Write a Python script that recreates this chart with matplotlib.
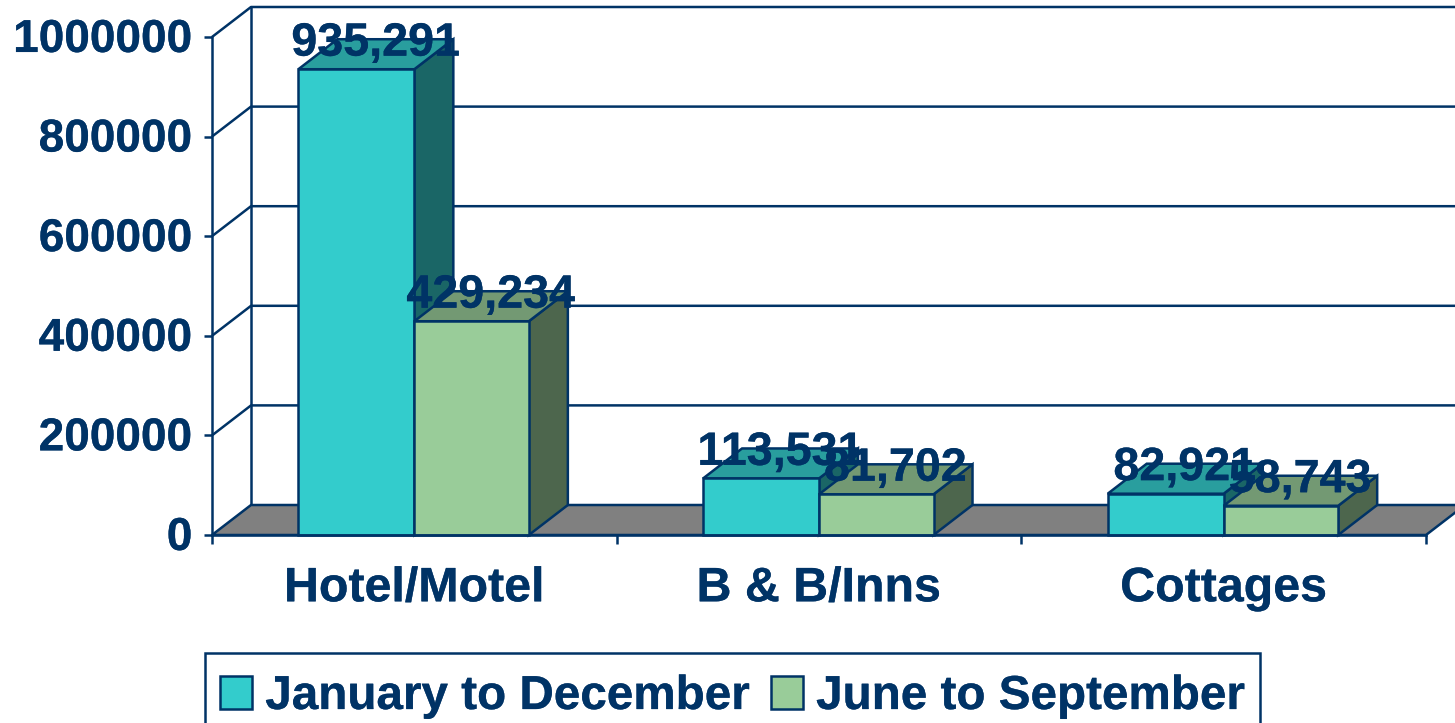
import matplotlib
matplotlib.use("Agg")
import matplotlib.pyplot as plt
import matplotlib.patheffects as pe
from matplotlib.patches import Polygon, Patch, Rectangle
from matplotlib.transforms import ScaledTranslation

categories = ["Hotel/Motel", "B & B/Inns", "Cottages"]
series_names = ["January to December", "June to September"]
jan_dec = [935291, 113531, 82921]
jun_sep = [429234, 81702, 58743]
y_ticks = [0, 200000, 400000, 600000, 800000, 1000000]

NAVY = "#003366"
FRONT = ["#33CCCC", "#99CC99"]
TOP = ["#299E9E", "#739973"]
SIDE = ["#1A6666", "#4D664D"]
FLOOR = "#808080"

W, H = 1455, 723
plt.rcParams["font.family"] = ["Liberation Sans", "DejaVu Sans"]
plt.rcParams["font.weight"] = "bold"
fig = plt.figure(figsize=(W / 100, H / 100), dpi=100, facecolor="white")
ax = fig.add_axes([212 / W, (723 - 535) / H, 1214 / W, 498 / H])
ax.set_xlim(0, 3)
ax.set_ylim(0, 1000000)
ax.patch.set_visible(False)

dx = 39 / 404.7        # depth in category units
dy = 30 / 498 * 1e6    # depth in value units
bar_w = [0.2865, 0.283]
lw = 1.8
heavy = [pe.withStroke(linewidth=0.2, foreground=NAVY)]


def poly(pts, fc, z):
    ax.add_patch(Polygon(pts, closed=True, facecolor=fc, edgecolor=NAVY,
                         linewidth=lw, joinstyle="miter", clip_on=False, zorder=z))


def line(xs, ys, z=1):
    ax.plot(xs, ys, color=NAVY, lw=lw, clip_on=False, zorder=z, solid_capstyle="butt")


# floor and walls
poly([(0, 0), (3, 0), (3 + dx, dy), (dx, dy)], FLOOR, 1)
for t in y_ticks[1:]:
    line([0, dx, 3 + dx], [t, t + dy, t + dy])
line([dx, dx], [dy, 1e6 + dy])

# bars
centers = [i + 0.5 for i in range(3)]
edges = []
for i, c in enumerate(centers):
    for s, vals in enumerate([jan_dec, jun_sep]):
        x0 = c - bar_w[0] if s == 0 else c
        x1 = x0 + bar_w[s]
        v = vals[i]
        z = 3 + i + s * 0.1
        poly([(x1, 0), (x1 + dx, dy), (x1 + dx, v + dy), (x1, v)], SIDE[s], z)
        poly([(x0, v), (x1, v), (x1 + dx, v + dy), (x0 + dx, v + dy)], TOP[s], z)
        poly([(x0, 0), (x1, 0), (x1, v), (x0, v)], FRONT[s], z)
        edges.append((i, s, (x0 + x1) / 2 + dx / 2, v))

# data labels
for i, s, x, v in edges:
    ax.annotate(f"{v:,}", (x, v), xytext=(-0.3, 9.8),
                textcoords="offset points", ha="center", va="baseline",
                fontsize=33.6, fontweight="bold", color=NAVY, zorder=10,
                annotation_clip=False, path_effects=heavy)

# axes
for name, sp in ax.spines.items():
    sp.set_visible(name in ("left", "bottom"))
    sp.set_color(NAVY)
    sp.set_linewidth(lw)
    sp.set_zorder(8)
ax.set_yticks(y_ticks, [str(t) for t in y_ticks])
ax.set_xticks([0, 1, 2, 3], ["", "", "", ""])
ax.set_xticks(centers, categories, minor=True)
ax.tick_params(axis="y", length=5.8, width=lw, color=NAVY, labelcolor=NAVY,
               labelsize=33.1, pad=8.3)
ax.tick_params(axis="x", which="major", length=6.2, width=lw, color=NAVY)
ax.tick_params(axis="x", which="minor", length=0, labelcolor=NAVY,
               labelsize=34.8, pad=22.5)
shift = ScaledTranslation(0, 1.5 / 72, fig.dpi_scale_trans)
for lab in ax.get_yticklabels():
    lab.set_fontweight("bold")
    lab.set_path_effects(heavy)
    lab.set_transform(lab.get_transform() + shift)
for lab in ax.get_xticklabels(minor=True):
    lab.set_fontweight("bold")
    lab.set_path_effects(heavy)

# legend
fig.add_artist(Rectangle((205 / W, 1 - 745 / H), 1055 / W, 92 / H,
                         transform=fig.transFigure, facecolor="white",
                         edgecolor=NAVY, linewidth=lw, zorder=0))
handles = [Patch(facecolor=FRONT[k], edgecolor=NAVY, linewidth=lw, label=series_names[k])
           for k in range(2)]
leg = fig.legend(handles=handles, ncol=2, loc="upper left",
                 bbox_to_anchor=(220 / W, 1 - 674 / H), borderaxespad=0,
                 frameon=False, prop={"size": 34.3, "weight": "bold"}, labelcolor=NAVY,
                 handlelength=0.68, handleheight=0.68, handletextpad=0.27,
                 columnspacing=0.44, borderpad=0)
leg.set_zorder(5)
for t in leg.get_texts():
    t.set_path_effects(heavy)

fig.savefig("out.png", dpi=100)
